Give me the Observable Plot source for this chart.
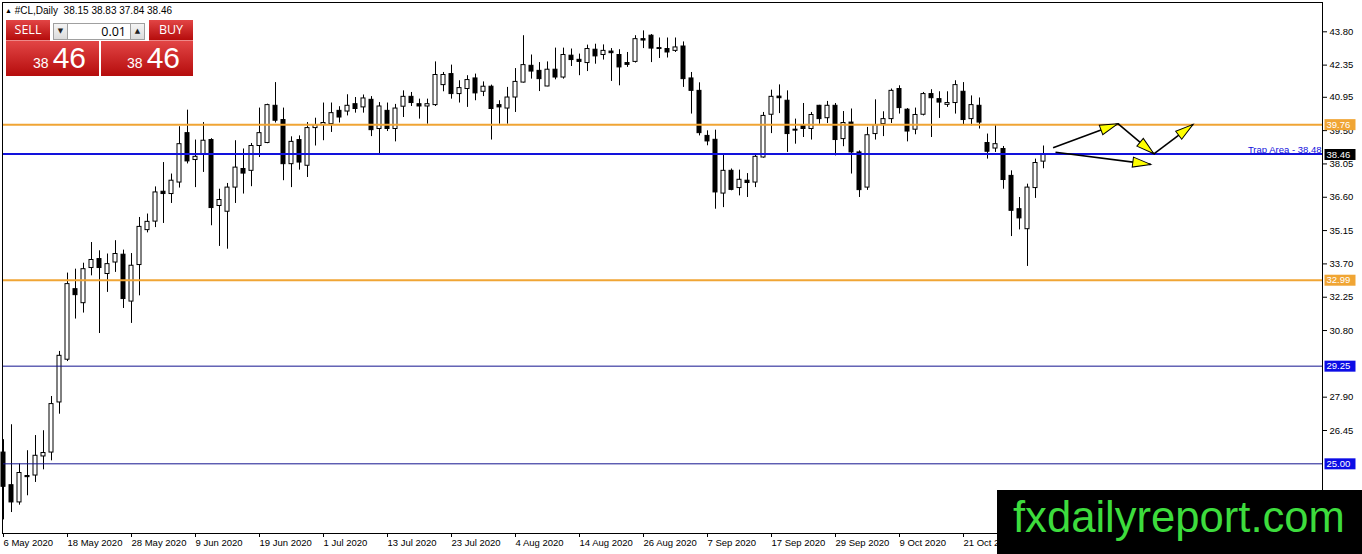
<!DOCTYPE html>
<html><head><meta charset="utf-8">
<script src="https://cdn.jsdelivr.net/npm/d3@7"></script>
<script src="https://cdn.jsdelivr.net/npm/@observablehq/plot@0.6"></script>
<style>
html,body{margin:0;padding:0;background:#fff;}
#wrap{position:relative;width:1362px;height:554px;overflow:hidden;background:#fff;}
#chart{position:absolute;left:0;top:0;}
.ov{position:absolute;box-sizing:border-box;}
#hdr{left:5px;top:5px;font:10px 'Liberation Sans',Arial,sans-serif;color:#000;white-space:pre;}
#hdr .tri{font-size:7px;vertical-align:1px;}
.red{background:linear-gradient(#e24545,#b50c0c);color:#fff;}
.btn{font:12.5px 'Open Sans',sans-serif;text-align:center;line-height:20px;}
#sell{left:6px;top:20px;width:44px;height:21px;border-bottom:1px solid #e88;}
#buy{left:149px;top:20px;width:44px;height:21px;border-bottom:1px solid #e88;}
.spin{top:23px;height:17px;background:linear-gradient(#f4f4f4,#dcdcdc);border:1px solid #a0a0a0;font:7px 'DejaVu Sans',sans-serif;text-align:center;line-height:15px;color:#222;}
#dn{left:53px;width:15px;}
#up{left:130px;width:15px;}
#lot{left:68px;top:23px;width:62px;height:17px;background:#fff;border-top:1px solid #a0a0a0;border-bottom:1px solid #a0a0a0;font:12.5px 'Open Sans',sans-serif;text-align:right;padding-right:4px;line-height:15px;color:#000;}
.big{top:41px;height:35px;display:flex;justify-content:flex-end;align-items:baseline;padding-right:13px;padding-top:2px;line-height:30px;font-family:'Liberation Sans',Arial,sans-serif;}
.big .s{font-size:14px;margin-right:4px;}
.big .b{font-size:30px;}
#sellbig{left:6px;width:93px;}
#buybig{left:101px;width:92px;}
#wm{left:997px;top:490px;width:365px;height:64px;background:#000;}
#wm span{position:absolute;left:16px;top:6px;font:43.6px 'Liberation Sans',Arial,sans-serif;line-height:1;color:#3ddc3d;white-space:nowrap;}
</style></head>
<body>
<div id="wrap">
  <div id="chart"></div>
  <div id="hdr" class="ov"></div>
  <div id="sell" class="ov red btn">SELL</div>
  <div id="dn" class="ov spin">▼</div>
  <div id="lot" class="ov"></div>
  <div id="up" class="ov spin">▲</div>
  <div id="buy" class="ov red btn">BUY</div>
  <div id="sellbig" class="ov red big"><span class="s"></span><span class="b"></span></div>
  <div id="buybig" class="ov red big"><span class="s"></span><span class="b"></span></div>
  <div id="wm" class="ov"><span>fxdailyreport.com</span></div>
</div>
<script>
// ---------------- data ----------------
const symbolName = "#CL,Daily";
const lotSize = "0.01";
const open = [
25.49,24.07,23.32,24.47,24.49,25.32,25.49,27.67,29.53,32.60,
31.99,33.52,33.91,33.26,33.76,34.10,32.06,33.65,35.17,35.54,
36.84,36.74,37.24,39.39,38.22,38.48,39.09,36.22,35.97,37.02,
37.83,37.75,38.83,38.96,40.58,39.96,38.04,39.09,37.97,39.61,
39.74,39.78,40.36,40.33,40.65,40.51,40.84,39.57,40.36,39.57,
40.54,40.97,40.65,40.55,40.61,41.48,41.96,41.09,41.31,41.77,
41.19,41.41,40.61,40.46,40.94,41.59,42.32,42.10,41.42,42.15,
41.81,42.76,42.58,42.44,43.02,42.79,42.94,42.79,42.44,42.49,
43.48,43.63,43.09,43.05,42.97,43.16,41.77,41.23,39.27,39.10,
36.76,37.75,37.00,37.32,37.24,38.33,40.19,40.98,40.80,39.54,
39.71,39.57,40.58,40.04,40.58,39.13,39.85,38.55,37.02,39.35,
39.78,40.00,41.31,40.41,39.54,40.19,41.09,40.87,40.62,40.70,
41.19,40.00,40.58,38.96,38.72,38.70,37.53,36.08,35.21,37.00,
38.15];
const high = [
26.05,26.70,24.99,25.57,26.23,26.44,27.93,29.89,33.30,33.47,
33.73,34.63,34.27,34.13,34.71,34.30,34.15,35.72,35.87,37.05,
38.11,37.61,39.67,40.39,39.09,39.85,39.15,36.95,37.20,39.06,
38.70,38.94,40.48,40.65,41.59,40.48,39.23,39.27,39.85,40.04,
40.70,40.70,40.54,41.06,40.94,41.05,40.98,40.72,40.70,40.64,
41.23,41.16,40.87,40.87,42.49,42.03,42.35,41.67,41.89,41.96,
41.62,41.48,40.80,41.38,42.20,43.63,42.79,42.46,42.49,43.09,
43.09,43.05,42.83,43.22,43.26,43.23,43.07,43.02,42.90,43.63,
43.84,43.68,43.53,43.53,43.53,43.36,42.03,41.58,39.49,39.52,
38.50,37.83,37.78,37.63,38.45,40.29,41.26,41.49,41.23,40.00,
40.68,40.29,40.60,40.77,40.68,40.33,40.44,38.62,39.64,40.84,
40.32,41.31,41.45,40.46,40.48,41.16,41.28,41.19,41.19,41.67,
41.59,41.01,40.92,39.35,39.74,38.81,37.75,36.59,37.17,38.26,
38.83];
const low = [
22.56,22.88,23.20,23.61,24.19,24.74,25.13,27.16,29.45,31.30,
31.56,33.18,30.67,32.46,33.33,31.76,31.11,32.31,35.05,35.28,
35.46,36.33,37.00,38.05,37.02,37.68,35.36,34.46,34.34,36.33,
36.74,37.06,38.33,38.93,39.83,37.32,37.02,37.78,37.46,38.83,
39.06,39.42,39.83,40.14,40.26,40.26,39.24,38.48,39.46,39.01,
40.07,40.55,40.00,39.78,40.55,41.19,40.87,40.70,40.51,40.80,
40.98,39.09,39.78,39.78,40.29,41.57,41.74,41.20,41.41,41.71,
41.74,42.29,41.89,42.07,42.39,42.57,41.64,41.45,42.25,42.44,
43.07,42.46,42.64,42.66,42.90,41.38,40.22,39.27,38.84,36.08,
36.15,36.88,36.66,36.59,37.02,38.30,39.37,40.24,38.55,38.91,
39.20,39.09,39.78,39.81,38.40,38.80,37.61,36.59,36.90,39.09,
39.24,39.81,40.22,39.01,39.32,40.14,39.20,40.03,40.51,40.22,
39.74,39.71,39.57,38.26,38.55,36.95,34.89,35.18,33.59,36.55,
37.84];
const close = [
24.00,23.32,24.60,24.42,25.35,25.47,27.60,29.70,32.82,32.34,
33.47,33.87,33.52,33.69,34.13,32.17,33.62,35.31,35.53,36.81,
36.74,37.32,38.91,38.16,38.36,39.06,36.13,36.48,37.02,37.89,
37.63,38.83,39.39,40.61,39.93,38.04,39.01,38.11,39.61,39.74,
39.83,40.26,40.07,40.58,40.44,40.90,39.52,40.55,39.57,40.46,
40.97,40.70,40.55,40.65,41.92,41.92,41.09,41.35,41.70,41.12,
41.41,40.44,40.51,40.94,41.62,42.35,42.07,41.74,42.15,41.81,
42.79,42.57,42.49,43.05,42.73,42.97,42.87,42.25,42.36,43.48,
43.42,43.07,43.05,42.90,43.12,41.74,41.23,39.39,39.03,36.81,
37.75,36.92,37.36,37.22,38.36,40.14,40.97,40.91,39.35,39.50,
39.57,40.18,40.00,40.58,39.09,39.83,38.55,36.91,39.30,39.74,
40.00,41.23,40.48,39.46,40.18,41.09,40.91,40.72,40.70,41.48,
39.96,40.61,39.85,38.58,38.91,37.35,36.01,35.68,37.02,38.09,
38.46];
// date labels visible along the bottom (one every 8 bars)
const xTickLabels = ["6 May 2020","18 May 2020","28 May 2020","9 Jun 2020","19 Jun 2020",
  "1 Jul 2020","13 Jul 2020","23 Jul 2020","4 Aug 2020","14 Aug 2020","26 Aug 2020",
  "7 Sep 2020","17 Sep 2020","29 Sep 2020","9 Oct 2020","21 Oct 2020"];
const barsPerTick = 8;
// price-scale labels visible in the reference (29.35 and 25.00 sit fully under level boxes)
const yTickValues = [43.80,42.35,40.95,39.50,38.05,36.60,35.15,33.70,32.25,30.80,27.90,26.45];
const orangeLevels = [39.76, 32.99];
const navyLevels = [29.25, 25.00];
const trapLevel = 38.48;
const trapLabel = "Trap Area - 38.48";
// arrows drawn on chart: start (bar index, price) -> end (bar index, price)
const arrowFromIdx   = [131.2, 139.3, 143.8, 131.5];
const arrowFromPrice = [38.75, 39.80, 38.49, 38.56];
const arrowToIdx     = [139.3, 143.8, 148.7, 143.4];
const arrowToPrice   = [39.80, 38.49, 39.77, 38.03];

// ---------------- colours ----------------
const ORANGE = "#f0a534";
const TRAPBLUE = "#1212dc";
const NAVY = "#14148f";
const BLUEBOX = "#0c0ce6";

// ---------------- build ----------------
const candles = open.map((o, i) => ({i, o, h: high[i], l: low[i], c: close[i], up: close[i] >= o}));
const last = candles[candles.length - 1];
const fmt = d3.format(".2f");

const W = 1362, H = 554;
const base = {
  width: W, height: H,
  marginLeft: 2, marginTop: 2, marginRight: 40, marginBottom: 21,
  x: {type: "linear", domain: [-0.125, 164.875]},
  y: {type: "linear", domain: [21.968, 45.075]},
  style: {fontFamily: "'Liberation Sans', Arial, sans-serif", fontSize: "9.5px", color: "black", background: "white", overflow: "visible"}
};

const probe = Plot.plot({...base, marks: [Plot.frame()]});
const sx = probe.scale("x"), sy = probe.scale("y");
const arrows = arrowFromIdx.map((x1, k) => {
  const d = {x1, y1: arrowFromPrice[k], x2: arrowToIdx[k], y2: arrowToPrice[k]};
  const dx = sx.apply(d.x2) - sx.apply(d.x1);
  const dy = sy.apply(d.y2) - sy.apply(d.y1);
  d.angle = Math.atan2(dx, -dy) * 180 / Math.PI;
  return d;
});

const headSymbol = {draw(ctx) { ctx.moveTo(0, 0); ctx.lineTo(-5, 18); ctx.lineTo(5, 18); ctx.closePath(); }};
const boxSymbol = {draw(ctx) { ctx.rect(-15.5, -5.5, 31, 11); }};

const boxes = [
  ...orangeLevels.map(v => ({v, fill: ORANGE})),
  ...navyLevels.map(v => ({v, fill: BLUEBOX})),
  {v: last.c, fill: "black"}
];

const chart = Plot.plot({
  ...base,
  marks: [
    Plot.ruleX(candles, {x: "i", y1: "l", y2: "h", stroke: "black", strokeWidth: 1}),
    Plot.rect(candles.filter(d => d.up), {x1: d => d.i - 0.25, x2: d => d.i + 0.25, y1: "o", y2: "c", fill: "white", stroke: "black", strokeWidth: 1}),
    Plot.rect(candles.filter(d => !d.up), {x1: d => d.i - 0.25, x2: d => d.i + 0.25, y1: "o", y2: "c", fill: "black", stroke: "black", strokeWidth: 1}),
    Plot.ruleY(navyLevels, {stroke: NAVY, strokeWidth: 1}),
    Plot.ruleY(orangeLevels, {stroke: ORANGE, strokeWidth: 2}),
    Plot.ruleY([trapLevel], {stroke: TRAPBLUE, strokeWidth: 2}),
    Plot.text([trapLabel], {y: [trapLevel], frameAnchor: "right", textAnchor: "end", lineAnchor: "bottom", dx: -1, dy: -1, fill: TRAPBLUE, fontSize: 9.5}),
    Plot.link(arrows, {x1: "x1", y1: "y1", x2: "x2", y2: "y2", stroke: "black", strokeWidth: 1.6}),
    Plot.dot(arrows, {x: "x2", y: "y2", symbol: headSymbol, rotate: "angle", fill: "#ffff00", stroke: "black", strokeWidth: 1, r: 5}),
    Plot.axisY({anchor: "right", ticks: yTickValues, tickFormat: fmt, tickSize: 4, tickPadding: 3, label: null}),
    Plot.dot(boxes, {y: "v", frameAnchor: "right", dx: 17.5, symbol: boxSymbol, fill: "fill", stroke: null, r: 5}),
    Plot.text(boxes, {y: "v", text: d => fmt(d.v), frameAnchor: "right", dx: 4, textAnchor: "start", fill: "white", fontSize: 9.5}),
    Plot.axisX({ticks: xTickLabels.map((_, k) => k * barsPerTick), tickFormat: d => xTickLabels[Math.round(d / barsPerTick)], tickSize: 4, tickPadding: 2, textAnchor: "start", dx: 0, label: null}),
    Plot.frame({stroke: "black"})
  ]
});
document.getElementById("chart").appendChild(chart);

// header & trade panel text
document.getElementById("hdr").innerHTML = '<span class="tri">▲</span> ' + symbolName + '  ' + [last.o, last.h, last.l, last.c].map(fmt).join(" ");
document.getElementById("lot").textContent = lotSize;
const priceStr = fmt(last.c).split(".");
for (const id of ["sellbig", "buybig"]) {
  const el = document.getElementById(id);
  el.querySelector(".s").textContent = priceStr[0];
  el.querySelector(".b").textContent = priceStr[1];
}
</script>
</body></html>
